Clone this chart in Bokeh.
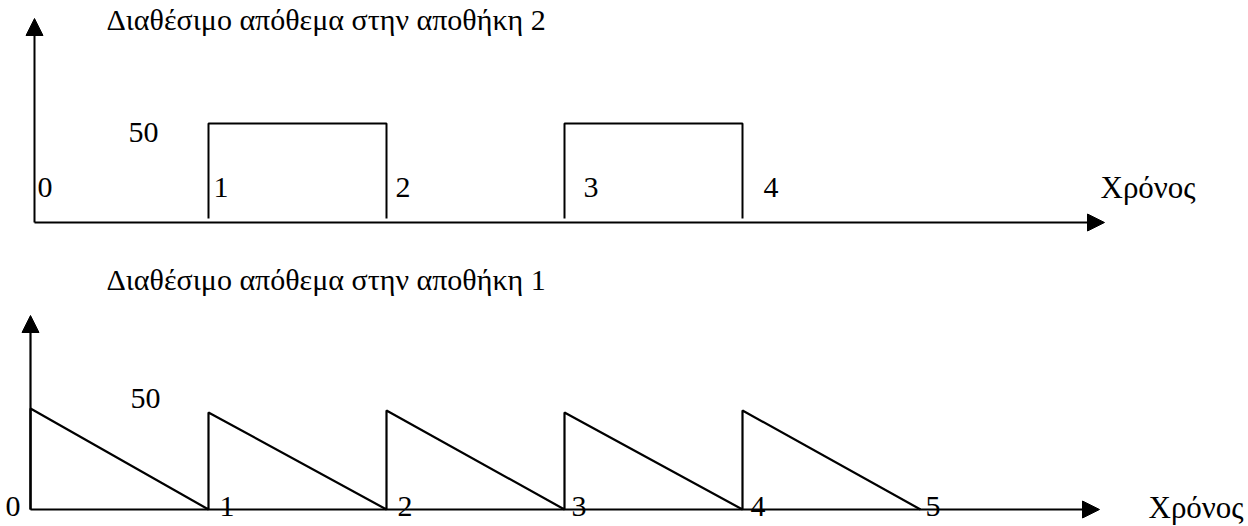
from bokeh.plotting import figure
from bokeh.layouts import column
from bokeh.models import Range1d, Arrow, NormalHead
from bokeh.core.properties import value
from bokeh.embed import file_html
from bokeh.resources import INLINE

# ---------------- data ----------------
title_top = "Διαθέσιμο απόθεμα στην αποθήκη 2"
title_bottom = "Διαθέσιμο απόθεμα στην αποθήκη 1"
time_label = "Χρόνος"
level_label = "50"

# warehouse 2: stock present (50 units) during these intervals
w2_start = [1, 3]
w2_end = [2, 4]
w2_level = [50, 50]
w2_ticks = [0, 1, 2, 3, 4]
w2_tick_labels = ["0", "1", "2", "3", "4"]

# warehouse 1: replenished at these times, linearly depleted over one period
w1_times = [0, 1, 2, 3, 4]
w1_peaks = [51, 49, 50, 49, 50]
w1_period = 1
w1_ticks = [0, 1, 2, 3, 4, 5]
w1_tick_labels = ["0", "1", "2", "3", "4", "5"]

# ---------------- layout / style ----------------
FONT = "Liberation Serif"
W = 1248
H_TOP, H_BOT = 250, 276
PX0, PXU = 30.0, 178.0          # page x of t=0 and pixels per time unit
PY_UNIT = 1.98                  # pixels per stock unit
AX_TOP, AX_BOT = 222.0, 509.0   # page y of the time axes
X_START = (0 - PX0) / PXU
X_END = (W - PX0) / PXU
BASE_SHIFT = 0.35               # baseline correction (fraction of font size)


def px(xpage):
    return (xpage - PX0) / PXU


def make_fig(h, ymin, ymax):
    p = figure(width=W, height=h, output_backend="svg", toolbar_location=None,
               x_range=Range1d(X_START, X_END), y_range=Range1d(ymin, ymax),
               x_axis_type=None, y_axis_type=None, min_border=0,
               background_fill_color="white", border_fill_color="white")
    p.min_border_left = p.min_border_right = p.min_border_top = p.min_border_bottom = 0
    p.outline_line_color = None
    p.xgrid.visible = False
    p.ygrid.visible = False
    return p


def txt(p, x, y, t, size):
    p.text(x=x, y=y, text=t, text_font=value(FONT), text_font_size=f"{size}px",
           y_offset=-BASE_SHIFT * size,
           text_color="black", text_align="left", text_baseline="alphabetic")


# ---------- top panel (warehouse 2) ----------
top_py = lambda ypage: (AX_TOP - ypage) / PY_UNIT
p1 = make_fig(H_TOP, top_py(H_TOP), top_py(0))

gap = 2.0
xs = [[s, s, e, e] for s, e in zip(w2_start, w2_end)]
ys = [[gap, l, l, gap] for l in w2_level]
p1.multi_line(xs=xs, ys=ys, line_color="black", line_width=2)

head = dict(size=17, fill_color="black", line_color="black")
yax_top = px(34)
p1.add_layout(Arrow(end=NormalHead(**head), x_start=yax_top, y_start=0,
                    x_end=yax_top, y_end=top_py(18), line_width=2, line_color="black"))
p1.add_layout(Arrow(end=NormalHead(**head), x_start=yax_top, y_start=0,
                    x_end=px(1104), y_end=0, line_width=2, line_color="black"))

off_top = [7, 5, 9, 19, 21]
txt(p1, [t + o / PXU for t, o in zip(w2_ticks, off_top)], [top_py(197)] * len(w2_ticks),
    w2_tick_labels, 30)
txt(p1, [px(128)], [top_py(142)], [level_label], 30)
txt(p1, [px(1100)], [top_py(198)], [time_label], 31)
txt(p1, [px(106)], [top_py(29)], [title_top], 30)

# ---------- bottom panel (warehouse 1) ----------
bot_py = lambda ypage: (AX_BOT - ypage) / PY_UNIT
p2 = make_fig(H_BOT, bot_py(H_TOP + H_BOT), bot_py(H_TOP))

saw_x, saw_y = [], []
for t, pk in zip(w1_times, w1_peaks):
    saw_x += [t, t, t + w1_period]
    saw_y += [0, pk, 0]
p2.line(saw_x, saw_y, line_color="black", line_width=2.2)

p2.add_layout(Arrow(end=NormalHead(**head), x_start=0, y_start=0,
                    x_end=0, y_end=bot_py(315), line_width=2.2, line_color="black"))
p2.add_layout(Arrow(end=NormalHead(**head), x_start=0, y_start=0,
                    x_end=px(1099), y_end=0, line_width=2.2, line_color="black"))

off_bot = [-25, 11, 11, 7, 8, 5]
txt(p2, [t + o / PXU for t, o in zip(w1_ticks, off_bot)], [bot_py(516)] * len(w1_ticks),
    w1_tick_labels, 30)
txt(p2, [px(130)], [bot_py(408)], [level_label], 30)
txt(p2, [px(1148)], [bot_py(518)], [time_label], 31)
txt(p2, [px(106)], [bot_py(289)], [title_bottom], 30)

layout = column(p1, p2, spacing=0)
open("out.html", "w").write(file_html(layout, INLINE))
